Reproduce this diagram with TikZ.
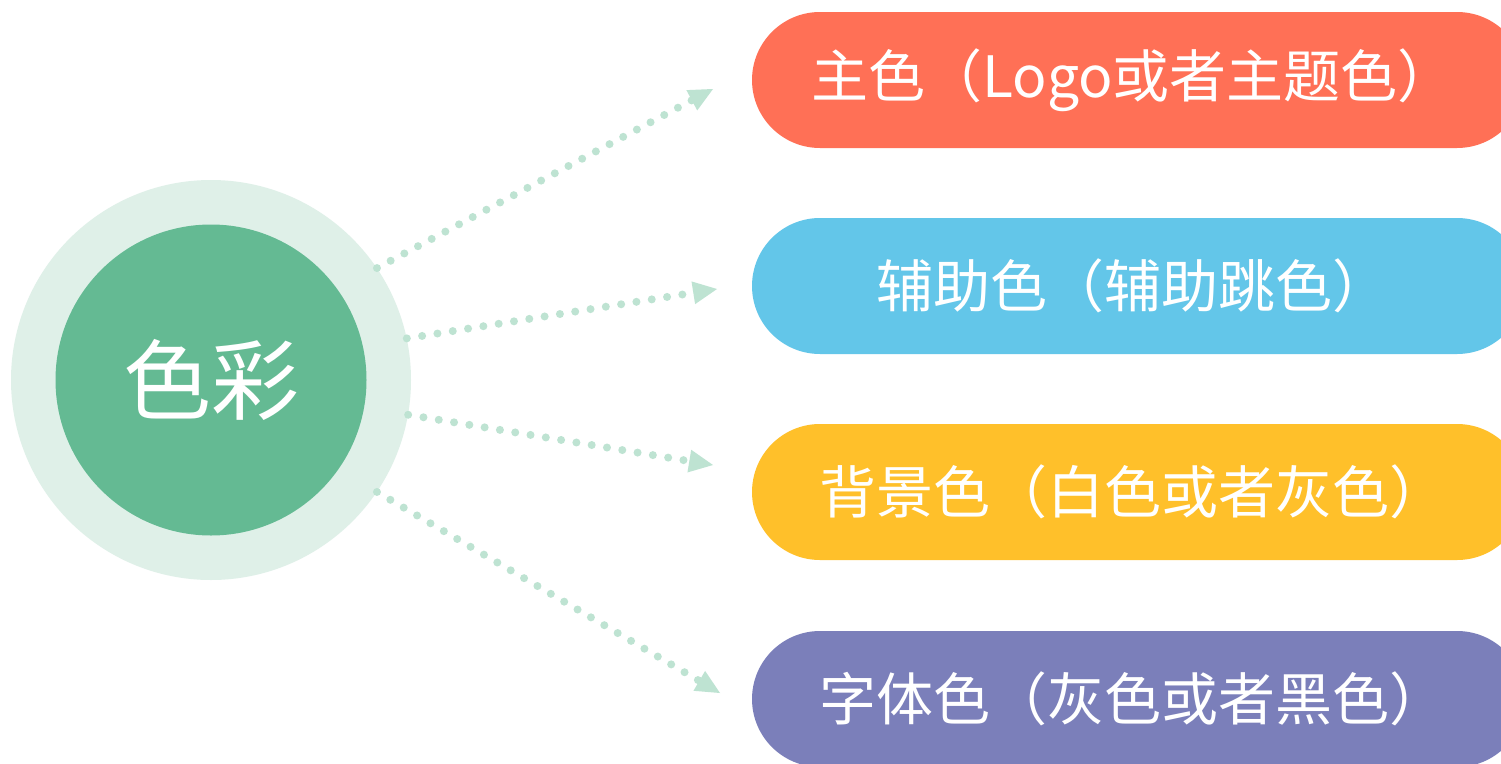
\documentclass[tikz,border=0pt]{standalone}
\usepackage{fontspec}
\newfontfamily\cjk{Noto Sans CJK SC}
\usetikzlibrary{arrows.meta}
\definecolor{outerc}{HTML}{DFF0E8}
\definecolor{innerc}{HTML}{64BA93}
\definecolor{arrowc}{HTML}{BEE3D2}
\definecolor{pillA}{HTML}{FF7056}
\definecolor{pillB}{HTML}{63C6E9}
\definecolor{pillC}{HTML}{FFC02A}
\definecolor{pillD}{HTML}{7B7FBA}
\tikzset{
  x=1pt,y=-1pt,
  pill/.style={rounded corners=68pt, minimum width=773pt, minimum height=136pt, inner sep=0pt, draw=none},
  pilltext/.style={text=white, inner sep=0pt, font=\cjk\fontsize{57}{57}\selectfont},
  conn/.style={draw=arrowc, line width=8pt, line cap=round, dash pattern=on 0pt off 15.5pt,
    -{Triangle[length=24pt,width=23pt,line width=0pt,fill=arrowc,color=arrowc]}},
}
\begin{document}
\begin{tikzpicture}
\useasboundingbox (0,0) rectangle (1501,763);
\clip (0,0) rectangle (1501,763);
\fill[white] (0,0) rectangle (1501,763);
% center circles
\node[circle, fill=outerc, minimum size=400pt, inner sep=0pt] (co) at (211,380) {};
\node[circle, fill=innerc, minimum size=311pt, inner sep=0pt, text=white,
      font=\cjk\fontsize{88}{88}\selectfont] (ci) at (211,380) {色彩};
% pills
\node[pill, fill=pillA] (p1) at (1138.5,80) {};
\node[pill, fill=pillB] (p2) at (1138.5,286) {};
\node[pill, fill=pillC] (p3) at (1138.5,492) {};
\node[pill, fill=pillD] (p4) at (1138.5,699) {};
\node[pilltext] (t1) at (1133,80) {主色（Logo或者主题色）};
\node[pilltext] (t2) at (1133,286) {辅助色（辅助跳色）};
\node[pilltext] (t3) at (1133,492) {背景色（白色或者灰色）};
\node[pilltext] (t4) at (1133,699) {字体色（灰色或者黑色）};
% arrow ends
\coordinate (e1) at (713,89);
\coordinate (e2) at (717,289);
\coordinate (e3) at (713,465);
\coordinate (e4) at (720,693);
\draw[conn] (co.34) -- (e1);
\draw[conn] (co.12) -- (e2);
\draw[conn] (co.-10.5) -- (e3);
\draw[conn] (co.-34) -- (e4);
\end{tikzpicture}
\end{document}
